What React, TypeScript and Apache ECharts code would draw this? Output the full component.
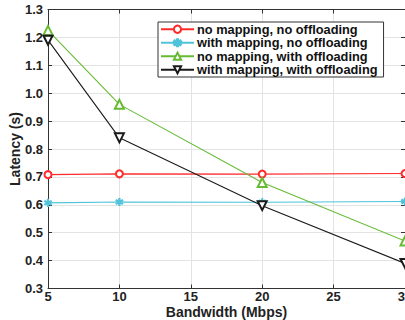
import React, { useEffect, useRef } from "react";
import * as echarts from "echarts";

const bandwidth = [5, 10, 20, 30];
const noMapNoOff = [0.708, 0.711, 0.71, 0.712];
const mapNoOff = [0.607, 0.61, 0.609, 0.612];
const noMapOff = [1.225, 0.96, 0.68, 0.47];
const mapOff = [1.19, 0.84, 0.597, 0.39];
const seriesNames = [
  "no mapping, no offloading",
  "with mapping, no offloading",
  "no mapping, with offloading",
  "with mapping, with offloading",
];

const asterisk =
  "path://M-0.8,-5L0.8,-5L0.8,5L-0.8,5Z M3.93,-3.19L4.73,-1.81L-3.93,3.19L-4.73,1.81Z M4.73,1.81L3.93,3.19L-4.73,-1.81L-3.93,-3.19Z";

const FONT = "Liberation Sans, Arial, sans-serif";

export default function App() {
  const ref = useRef<HTMLDivElement>(null);
  useEffect(() => {
    if (!ref.current) return;
    const chart = echarts.init(ref.current, undefined, { renderer: "svg" });
    const pair = (ys: number[]) => bandwidth.map((x, i) => [x, ys[i]]);
    const mk = (name: string, data: number[], color: string, symbol: string, size: number, rotate = 0) => ({
      name,
      type: "line",
      data: pair(data),
      symbol,
      symbolSize: size,
      symbolRotate: rotate,
      showAllSymbol: true,
      lineStyle: { color, width: 1.1 },
      itemStyle: { color, borderColor: color, borderWidth: 1.1 },
      clip: false,
    });
    const labelStyle = { color: "#222", fontWeight: "bold" as const, fontSize: 13, fontFamily: FONT };
    chart.setOption({
      animation: false,
      backgroundColor: "#fff",
      textStyle: { fontFamily: FONT },
      grid: { left: 48, right: 0, top: 9.5, bottom: 31.5, outerBoundsMode: "none", containLabel: false },
      legend: {
        orient: "vertical",
        left: 158,
        top: 22,
        itemWidth: 33,
        itemHeight: 9,
        itemGap: 0,
        padding: [0.5, 6, 0.5, 2],
        backgroundColor: "#fff",
        borderColor: "#333",
        borderWidth: 1,
        borderRadius: 0,
        textStyle: { ...labelStyle, fontSize: 12.8, lineHeight: 13.5, color: "#111", padding: [0, 0, 0, -2] },
        data: seriesNames,
      },
      xAxis: [
        {
          type: "value",
          min: 5,
          max: 30,
          interval: 5,
          name: "Bandwidth (Mbps)",
          nameLocation: "middle",
          nameGap: 17,
          nameMoveOverlap: false,
          nameTextStyle: { ...labelStyle, fontSize: 14, lineHeight: 13 },
          axisLine: { lineStyle: { color: "#333", width: 1 } },
          axisTick: { inside: true, length: 4, lineStyle: { color: "#333" } },
          axisLabel: { ...labelStyle, margin: 2, lineHeight: 12 },
          splitLine: { show: true, lineStyle: { color: "#e3e3e3", width: 1 } },
        },
        {
          type: "value",
          position: "top",
          min: 5,
          max: 30,
          interval: 5,
          axisLine: { show: true, lineStyle: { color: "#333", width: 1 } },
          axisTick: { show: true, inside: true, length: 4, lineStyle: { color: "#333" } },
          axisLabel: { show: false },
          splitLine: { show: false },
        },
      ],
      yAxis: [
        {
          type: "value",
          min: 0.3,
          max: 1.3,
          interval: 0.1,
          name: "Latency (s)",
          nameLocation: "middle",
          nameGap: 26,
          nameMoveOverlap: false,
          nameTextStyle: { ...labelStyle, fontSize: 14 },
          axisLine: { show: true, lineStyle: { color: "#333", width: 1 } },
          axisTick: { show: true, inside: true, length: 4, lineStyle: { color: "#333" } },
          axisLabel: { ...labelStyle, margin: 5, formatter: (v: number) => v.toFixed(1) },
          splitLine: { show: true, lineStyle: { color: "#e3e3e3", width: 1 } },
        },
        {
          type: "value",
          position: "right",
          min: 0.3,
          max: 1.3,
          interval: 0.1,
          axisLine: { show: true, lineStyle: { color: "#333", width: 1 } },
          axisTick: { show: true, inside: true, length: 4, lineStyle: { color: "#333" } },
          axisLabel: { show: false },
          splitLine: { show: false },
        },
      ],
      series: [
        mk(seriesNames[0], noMapNoOff, "#ff2a2a", "emptyCircle", 7),
        mk(seriesNames[1], mapNoOff, "#4fc3d9", asterisk, 7),
        mk(seriesNames[2], noMapOff, "#66bb33", "emptyTriangle", 9),
        mk(seriesNames[3], mapOff, "#1a1a1a", "emptyTriangle", 9, 180),
      ],
    });
    return () => chart.dispose();
  }, []);
  return (
    <div
      ref={ref}
      style={{ position: "absolute", left: 0, top: 0, width: 405, height: 320 }}
    />
  );
}
